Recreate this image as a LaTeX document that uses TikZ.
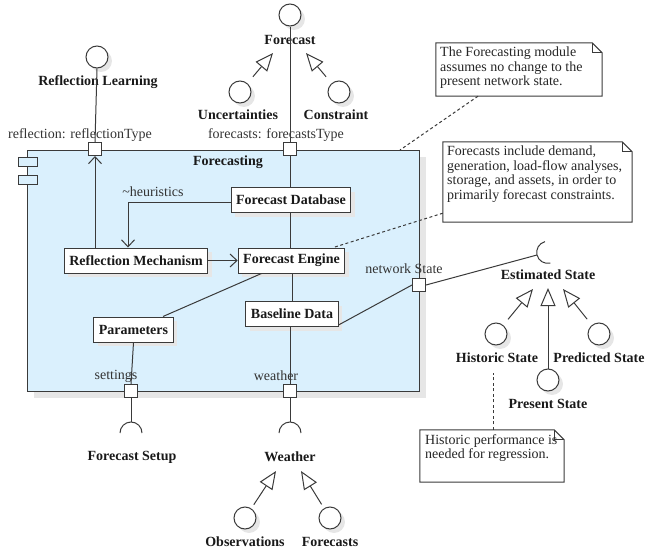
\documentclass[tikz,border=0pt]{standalone}
\usepackage{fontspec}
\setmainfont{Liberation Serif}
\usetikzlibrary{arrows.meta,shadows,calc}
\definecolor{compblue}{HTML}{DAF0FD}
\definecolor{ln}{HTML}{3A3A3A}
\definecolor{shd}{HTML}{E6E6E6}
\begin{document}
\begin{tikzpicture}[x=1pt,y=-1pt,
  every node/.style={font=\fontsize{14}{15}\selectfont, text=black!90},
  shad/.style={drop shadow={shadow xshift=4pt, shadow yshift=-4pt, fill=shd, opacity=1}},
  part/.style={draw=ln, fill=white, line width=1pt, font=\fontsize{14}{15}\selectfont\bfseries, inner xsep=5pt, inner ysep=0pt, minimum height=25pt, shad},
  port/.style={draw=ln, fill=white, line width=1pt, minimum size=13pt, inner sep=0pt},
  iface/.style={circle, draw=ln, fill=white, line width=1pt, minimum size=22pt, inner sep=0pt, shad},
  lbl/.style={font=\fontsize{14}{15}\selectfont\bfseries, inner sep=0pt},
  plbl/.style={text=black!80, inner sep=0pt},
  conn/.style={draw=ln, line width=1pt},
  arr/.style={conn, -{Straight Barb[length=7pt,width=13pt]}},
  gen/.style={conn, -{Triangle[open,length=18pt,width=15pt,fill=white]}},
  notebox/.style={align=left, inner sep=0pt, text=black!85, font=\fontsize{14}{14.5}\selectfont},
  notedash/.style={draw=ln, line width=1pt, dash pattern=on 3pt off 2.5pt},
]
\useasboundingbox (0,0) rectangle (646,554);

% component
\node (comp) [draw=ln, fill=compblue, line width=1pt, minimum width=392pt, minimum height=241pt, inner sep=0pt, drop shadow={shadow xshift=7pt, shadow yshift=-7pt, fill=shd, opacity=1}] at (223,270.5) {};
\node (ic1) [draw=ln, fill=compblue, line width=1pt, minimum width=19pt, minimum height=9pt, inner sep=0pt] at (27.5,161.5) {};
\node (ic2) [draw=ln, fill=compblue, line width=1pt, minimum width=19pt, minimum height=9pt, inner sep=0pt] at (27.5,179.5) {};
\node (ctitle) [lbl] at (228,162) {Forecasting};

% parts
\node[part] (fdb) at (291,200) {Forecast Database};
\node[part] (rm) at (136,260.5) {Reflection Mechanism};
\node[part] (fe) at (291.5,260.5) {Forecast Engine};
\node[part] (par) at (133.5,329.5) {Parameters};
\node[part] (bd) at (292,314) {Baseline Data};

% ports
\node[port] (pref) at (95,149) {};
\node[port] (pfc) at (290,149) {};
\node[port] (pset) at (131,391) {};
\node[port] (pwea) at (290,391) {};
\node[port] (pnet) at (419,285) {};
\node[plbl] (lref) at (80,135) {reflection: reflectionType};
\node[plbl] (lfc) at (276,135) {forecasts: forecastsType};
\node[plbl] (lset) at (116,376) {settings};
\node[plbl] (lwea) at (276,376) {weather};
\node[plbl] (lnet) at (404,269) {network State};

% provided interfaces
\node[iface] (rl) at (97,57) {};
\node[lbl] (rllbl) at (98,82) {Reflection Learning};
\node[iface] (fc) at (290,15) {};
\node[lbl] (fclbl) at (290,40) {Forecast};
\node[iface] (unc) at (240,92) {};
\node[lbl] (unclbl) at (238,115) {Uncertainties};
\node[iface] (con) at (339,92) {};
\node[lbl] (conlbl) at (336,115) {Constraint};

\coordinate (gu) at (273,53);
\coordinate (gc) at (306,53);
\draw[gen, shorten <=20pt] (unc.center) -- (gu);
\draw[gen, shorten <=20pt] (con.center) -- (gc);

\draw[conn] (rl.south) -- (pref.north);
\draw[conn] (fc.south) -- (pfc.north);
\draw[conn] (pfc.south) -- (pfc.south |- fdb.north);

% internal connectors
\draw[arr] (pref.south |- rm.north) -- (pref.south);
\coordinate (hk) at (128,202);
\draw[arr] (fdb.west |- hk) -- (hk) -- (hk |- rm.north);
\node[plbl] (heur) at (153,192) {\textasciitilde heuristics};
\draw[arr] (rm.east) -- (fe.west);
\draw[conn] (fdb.south -| pfc) -- (fe.north -| pfc);
\draw[conn] (fe.south -| bd) -- (bd.north);
\draw[conn] ([xshift=-30pt]fe.south) -- ([xshift=29.5pt]par.north);
\draw[conn] (par.south) -- (pset.north);
\draw[conn] (bd.south -| pwea) -- (pwea.north);
\draw[conn] ([yshift=-11pt]bd.east) -- (pnet.west);

% required: estimated state
\coordinate (se) at (537,255);
\draw[conn] (pnet.east) -- (se);
\draw[conn] (se) ++(14:11pt) ++(104:11pt) arc[start angle=104, end angle=284, radius=11pt];
\node[lbl] (eslbl) at (548,275) {Estimated State};
\node[iface] (hs) at (496,334) {};
\node[lbl] (hslbl) at (497,358) {Historic State};
\node[iface] (ps) at (599,334) {};
\node[lbl] (pslbl) at (599,358) {Predicted State};
\node[iface] (pr) at (548,380) {};
\node[lbl] (prlbl) at (548,404) {Present State};
\coordinate (gh) at (533,289);
\coordinate (gp) at (563,289);
\coordinate (gr) at (548,288);
\draw[gen, shorten <=19pt] (hs.center) -- (gh);
\draw[gen, shorten <=19pt] (ps.center) -- (gp);
\draw[gen] (pr.north) -- (gr);

% required: forecast setup, weather
\coordinate (s1) at (131,422);
\coordinate (s2) at (290,422);
\draw[conn] (pset.south) -- (s1);
\draw[conn] ([xshift=-11pt,yshift=-11pt]s1) arc[start angle=180, end angle=0, radius=11pt];
\draw[conn] (pwea.south) -- (s2);
\draw[conn] ([xshift=-11pt,yshift=-11pt]s2) arc[start angle=180, end angle=0, radius=11pt];
\node[lbl] (fslbl) at (132,457) {Forecast Setup};
\node[lbl] (wlbl) at (290,457) {Weather};
\node[iface] (obs) at (245,518) {};
\node[lbl] (obslbl) at (245,542) {Observations};
\node[iface] (fcs) at (330,518) {};
\node[lbl] (fcslbl) at (330,542) {Forecasts};
\coordinate (go) at (276,471);
\coordinate (gf) at (301,471);
\draw[gen, shorten <=16pt] (obs.center) -- (go);
\draw[gen, shorten <=16pt] (fcs.center) -- (gf);

% notes
\newcommand{\notefold}[1]{%
  \draw[draw=ln, line width=1pt, fill=white] (#1.north west) -- ([xshift=-10pt]#1.north east) -- ([yshift=-10pt]#1.north east) -- (#1.south east) -- (#1.south west) -- cycle;
  \draw[draw=ln, line width=1pt] ([xshift=-10pt]#1.north east) -- ([xshift=-10pt,yshift=-10pt]#1.north east) -- ([yshift=-10pt]#1.north east);}
\node (n1) [minimum width=166pt, minimum height=53pt, inner sep=0pt] at (519,69.5) {};
\notefold{n1}
\node[notebox, anchor=north west] (n1t) at (440,47) {The Forecasting module\\assumes no change to the\\present network state.};
\node (n2) [minimum width=189pt, minimum height=80pt, inner sep=0pt] at (537.5,182) {};
\notefold{n2}
\node[notebox, anchor=north west] (n2t) at (447,146) {Forecasts include demand,\\generation, load-flow analyses,\\storage, and assets, in order to\\primarily forecast constraints.};
\node (n3) [minimum width=144pt, minimum height=52pt, inner sep=0pt] at (492,456) {};
\notefold{n3}
\node[notebox, anchor=north west] (n3t) at (425,434) {Historic performance is\\needed for regression.};

\coordinate (c1) at (400,150);
\draw[notedash] ([xshift=-41pt]n1.south) -- (c1);
\draw[notedash] ([yshift=9pt]n2.south west) -- ([xshift=-12pt]fe.north east);
\coordinate (c3) at (493,373);
\draw[notedash] (n3.north -| c3) -- (c3);
\end{tikzpicture}
\end{document}
